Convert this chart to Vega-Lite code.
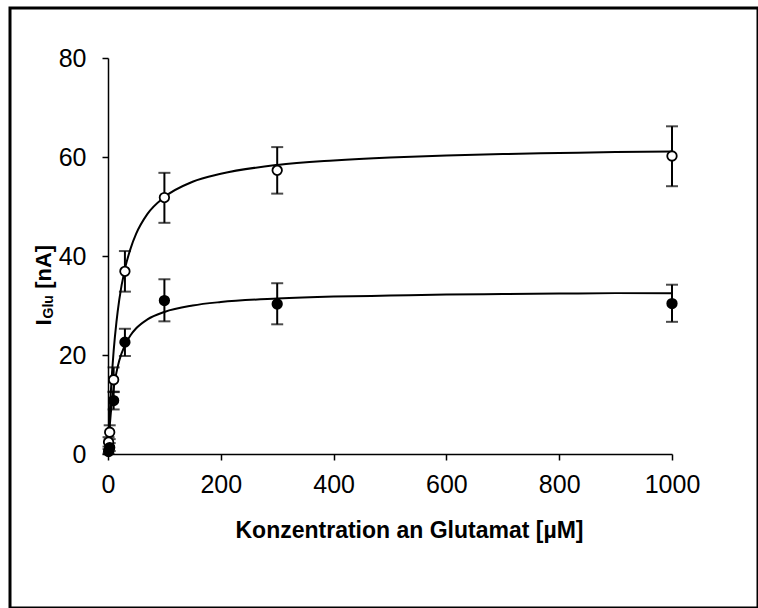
{
  "$schema": "https://vega.github.io/schema/vega-lite/v6.json",
  "autosize": "none",
  "width": 748,
  "height": 600,
  "padding": {"left": 10, "top": 8, "right": 0, "bottom": 0},
  "background": "white",
  "config": {
    "view": {"stroke": "black", "strokeWidth": 3},
    "font": "Liberation Sans"
  },
  "datasets": {
    "pts": [
      {"series": "open", "conc": 1, "mean": 2.4, "lo": 1.5, "hi": 3.4},
      {"series": "open", "conc": 3, "mean": 4.4, "lo": 3.0, "hi": 5.8},
      {"series": "open", "conc": 10, "mean": 15.0, "lo": 12.5, "hi": 17.5},
      {"series": "open", "conc": 30, "mean": 36.9, "lo": 32.8, "hi": 41.0},
      {"series": "open", "conc": 100, "mean": 51.8, "lo": 46.7, "hi": 56.8},
      {"series": "open", "conc": 300, "mean": 57.3, "lo": 52.6, "hi": 62.0},
      {"series": "open", "conc": 1000, "mean": 60.2, "lo": 54.1, "hi": 66.2},
      {"series": "filled", "conc": 1, "mean": 0.5, "lo": 0.1, "hi": 1.0},
      {"series": "filled", "conc": 3, "mean": 1.3, "lo": 0.6, "hi": 2.2},
      {"series": "filled", "conc": 10, "mean": 10.8, "lo": 9.0, "hi": 12.6},
      {"series": "filled", "conc": 30, "mean": 22.6, "lo": 19.8, "hi": 25.3},
      {"series": "filled", "conc": 100, "mean": 31.0, "lo": 26.8, "hi": 35.3},
      {"series": "filled", "conc": 300, "mean": 30.3, "lo": 26.2, "hi": 34.5},
      {"series": "filled", "conc": 1000, "mean": 30.4, "lo": 26.7, "hi": 34.2}
    ],
    "fit": [
      {"series": "open", "conc": 0, "val": 0},
      {"series": "open", "conc": 2, "val": 5.7},
      {"series": "open", "conc": 5, "val": 12.5},
      {"series": "open", "conc": 10, "val": 20.8},
      {"series": "open", "conc": 15, "val": 26.7},
      {"series": "open", "conc": 20, "val": 31.2},
      {"series": "open", "conc": 30, "val": 37.4},
      {"series": "open", "conc": 40, "val": 41.5},
      {"series": "open", "conc": 50, "val": 44.5},
      {"series": "open", "conc": 70, "val": 48.5},
      {"series": "open", "conc": 100, "val": 51.9},
      {"series": "open", "conc": 150, "val": 55.0},
      {"series": "open", "conc": 200, "val": 56.6},
      {"series": "open", "conc": 300, "val": 58.4},
      {"series": "open", "conc": 400, "val": 59.3},
      {"series": "open", "conc": 500, "val": 59.9},
      {"series": "open", "conc": 600, "val": 60.3},
      {"series": "open", "conc": 700, "val": 60.6},
      {"series": "open", "conc": 800, "val": 60.8},
      {"series": "open", "conc": 900, "val": 61.0},
      {"series": "open", "conc": 1000, "val": 61.1},
      {"series": "filled", "conc": 0, "val": 0},
      {"series": "filled", "conc": 2, "val": 3.9},
      {"series": "filled", "conc": 5, "val": 8.3},
      {"series": "filled", "conc": 10, "val": 13.2},
      {"series": "filled", "conc": 15, "val": 16.5},
      {"series": "filled", "conc": 20, "val": 18.9},
      {"series": "filled", "conc": 30, "val": 22.0},
      {"series": "filled", "conc": 40, "val": 24.0},
      {"series": "filled", "conc": 50, "val": 25.4},
      {"series": "filled", "conc": 70, "val": 27.2},
      {"series": "filled", "conc": 100, "val": 28.7},
      {"series": "filled", "conc": 150, "val": 30.0},
      {"series": "filled", "conc": 200, "val": 30.7},
      {"series": "filled", "conc": 300, "val": 31.4},
      {"series": "filled", "conc": 400, "val": 31.8},
      {"series": "filled", "conc": 500, "val": 32.0},
      {"series": "filled", "conc": 600, "val": 32.2},
      {"series": "filled", "conc": 700, "val": 32.3},
      {"series": "filled", "conc": 800, "val": 32.4},
      {"series": "filled", "conc": 900, "val": 32.5},
      {"series": "filled", "conc": 1000, "val": 32.5}
    ]
  },
  "layer": [
    {
      "data": {"name": "fit"},
      "mark": {"type": "line", "color": "black", "strokeWidth": 2, "interpolate": "monotone"},
      "encoding": {
        "x": {
          "field": "conc", "type": "quantitative",
          "scale": {"domain": [0, 1000], "range": [98, 662], "nice": false, "zero": false},
          "axis": {
            "orient": "bottom", "offset": -154, "values": [0, 200, 400, 600, 800, 1000], "format": "d",
            "grid": false, "domainColor": "black", "domainWidth": 1.5,
            "tickColor": "black", "tickWidth": 1.5, "tickSize": 6,
            "labelFontSize": 25, "labelColor": "black", "labelPadding": 12, "labelFlush": false,
            "title": "Konzentration an Glutamat [µM]", "titleFontSize": 23,
            "titleFontWeight": "bold", "titleColor": "black", "titlePadding": 22,
            "titleX": 399, "titleAnchor": "start", "titleAlign": "center"
          }
        },
        "y": {
          "field": "val", "type": "quantitative",
          "scale": {"domain": [0, 80], "range": [446, 50], "nice": false, "zero": false},
          "axis": {
            "orient": "left", "offset": -98, "values": [0, 20, 40, 60, 80],
            "grid": false, "domainColor": "black", "domainWidth": 1.5,
            "tickColor": "black", "tickWidth": 1.5, "tickSize": 6,
            "labelFontSize": 25, "labelColor": "black", "labelPadding": 16, "labelFlush": false,
            "title": "I\u00a0\u00a0\u00a0\u00a0\u00a0[nA]", "titleFontSize": 22,
            "titleFontWeight": "bold", "titleColor": "black",
            "titleAngle": 270, "titleAlign": "left", "titleBaseline": "middle",
            "titleX": -65, "titleY": 317
          }
        },
        "detail": {"field": "series"}
      }
    },
    {
      "data": {"name": "pts"},
      "mark": {"type": "rule", "color": "black", "strokeWidth": 2},
      "encoding": {
        "x": {"field": "conc", "type": "quantitative", "title": "Konzentration an Glutamat [µM]"},
        "y": {"field": "lo", "type": "quantitative", "axis": null},
        "y2": {"field": "hi"}
      }
    },
    {
      "data": {"name": "pts"},
      "mark": {"type": "tick", "orient": "horizontal", "color": "black", "size": 12, "thickness": 2},
      "encoding": {
        "x": {"field": "conc", "type": "quantitative", "title": "Konzentration an Glutamat [µM]"},
        "y": {"field": "lo", "type": "quantitative", "axis": null}
      }
    },
    {
      "data": {"name": "pts"},
      "mark": {"type": "tick", "orient": "horizontal", "color": "black", "size": 12, "thickness": 2},
      "encoding": {
        "x": {"field": "conc", "type": "quantitative", "title": "Konzentration an Glutamat [µM]"},
        "y": {"field": "hi", "type": "quantitative", "axis": null}
      }
    },
    {
      "data": {"name": "pts"},
      "mark": {"type": "point", "shape": "circle", "filled": true, "size": 90, "stroke": "black", "strokeWidth": 1.8, "opacity": 1},
      "encoding": {
        "x": {"field": "conc", "type": "quantitative", "title": "Konzentration an Glutamat [µM]"},
        "y": {
          "field": "mean", "type": "quantitative",
          "axis": {
            "orient": "right", "labels": false, "ticks": false, "domain": false, "grid": false,
            "title": "Glu", "titleFontSize": 14, "titleFontWeight": "bold", "titleColor": "black",
            "titleAngle": 270, "titleAlign": "left", "titleBaseline": "middle",
            "titleX": -710, "titleY": 310
          }
        },
        "fill": {"field": "series", "type": "nominal", "scale": {"domain": ["filled", "open"], "range": ["black", "white"]}, "legend": null}
      }
    }
  ],
  "resolve": {"axis": {"y": "independent"}}
}
